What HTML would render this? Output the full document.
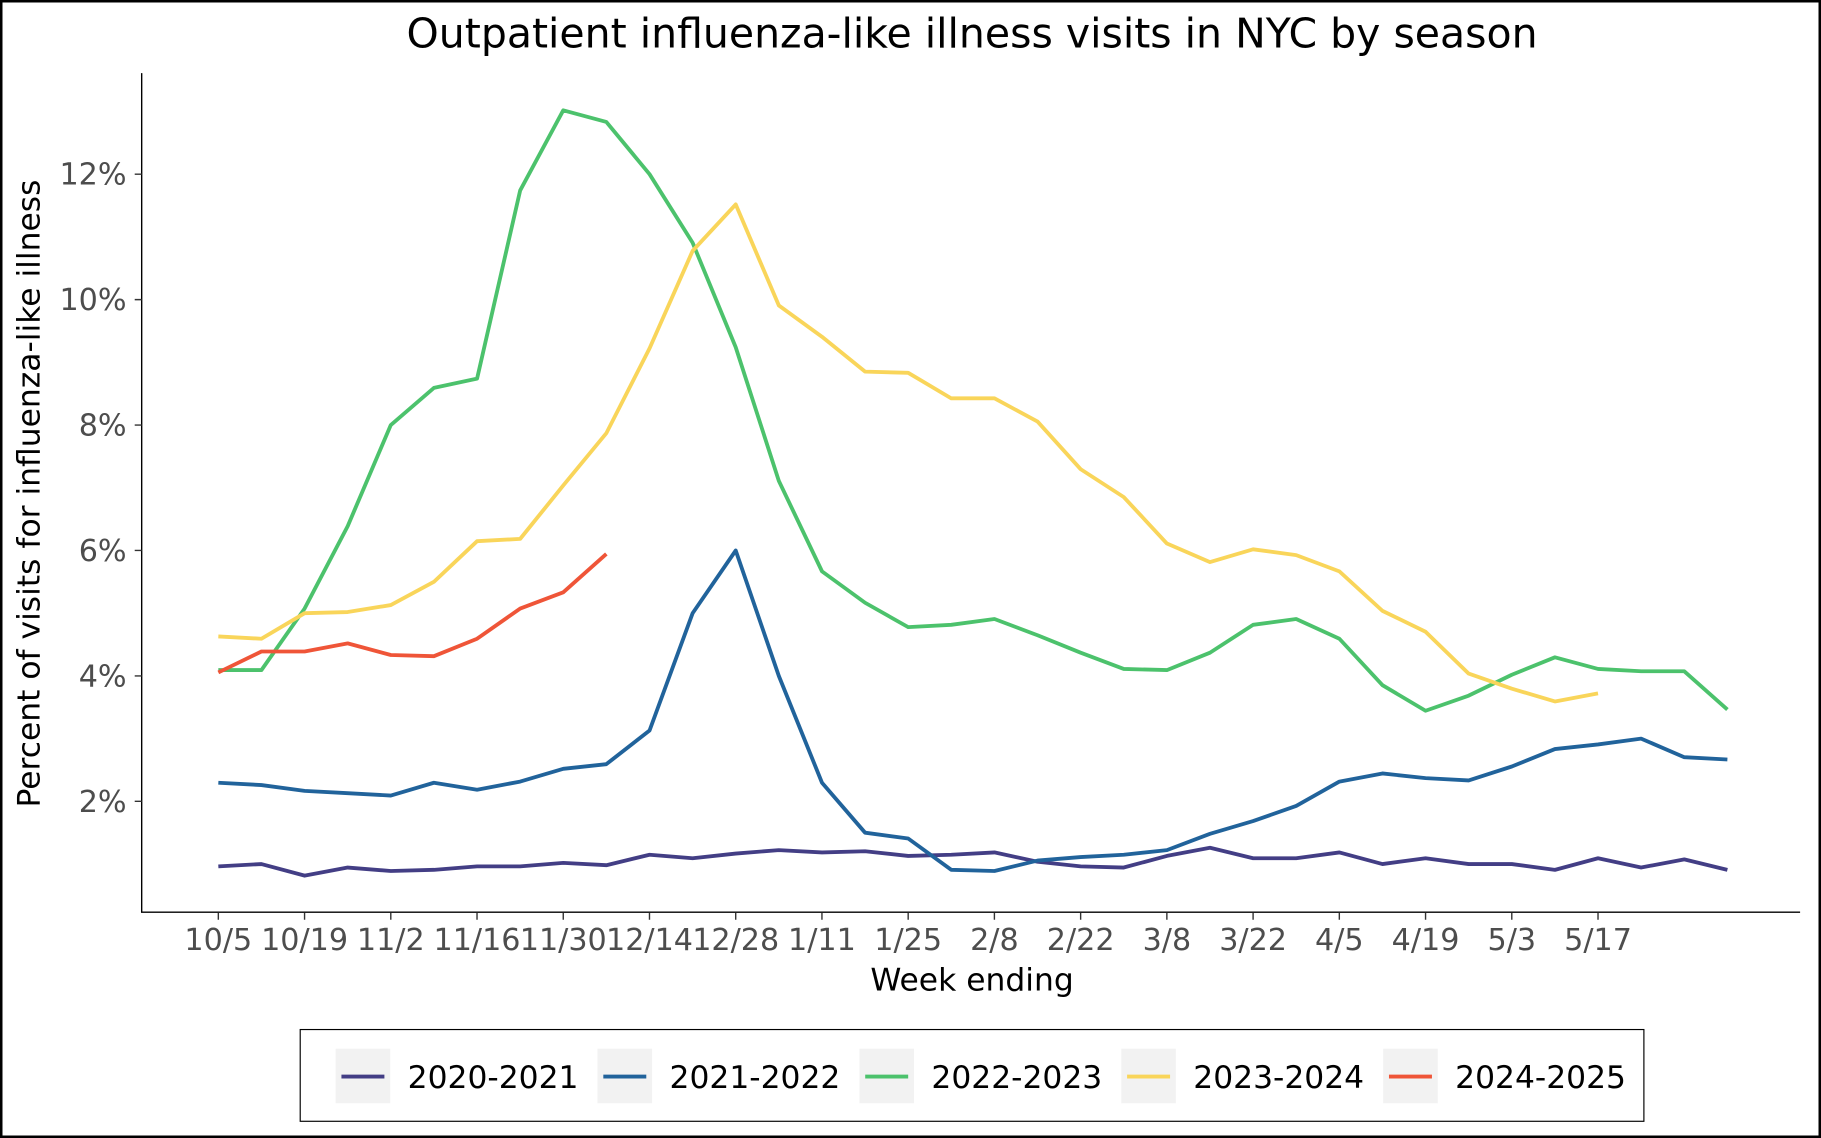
<!DOCTYPE html>
<html><head><meta charset="utf-8"><style>
html,body{margin:0;padding:0;background:#fff;}
svg{display:block;}
text{font-family:"DejaVu Sans","Liberation Sans",sans-serif;}
</style></head><body>
<svg width="1821" height="1138" viewBox="0 0 1821 1138" xmlns="http://www.w3.org/2000/svg">
<rect x="1" y="1" width="1819" height="1136" fill="#fff" stroke="#000" stroke-width="3"/>
<g transform="scale(1.16135)">
<text x="837" y="41" font-size="35.3" text-anchor="middle" fill="#000">Outpatient influenza-like illness visits in NYC by season</text>
<path d="M122 63 V785.5 H1550" fill="none" stroke="#000" stroke-width="1.2"/>
<path d="M116 150H122M116 258H122M116 366H122M116 474H122M116 582H122M116 690H122" stroke="#333" stroke-width="1.2"/>
<g font-size="26" fill="#4d4d4d" text-anchor="end">
<text x="109" y="159">12%</text><text x="109" y="267">10%</text><text x="109" y="375">8%</text>
<text x="109" y="483">6%</text><text x="109" y="591">4%</text><text x="109" y="699">2%</text>
</g>
<g font-size="26" fill="#4d4d4d" text-anchor="middle">
<path d="M188 786v6M262.25 786v6M336.5 786v6M410.75 786v6M485 786v6M559.25 786v6M633.5 786v6M707.75 786v6M782 786v6M856.25 786v6M930.5 786v6M1004.75 786v6M1079 786v6M1153.25 786v6M1227.5 786v6M1301.75 786v6M1376 786v6" stroke="#333" stroke-width="1.2"/>
<text x="188" y="818">10/5</text><text x="262.25" y="818">10/19</text><text x="336.5" y="818">11/2</text><text x="410.75" y="818">11/16</text><text x="485" y="818">11/30</text><text x="559.25" y="818">12/14</text><text x="633.5" y="818">12/28</text><text x="707.75" y="818">1/11</text><text x="782" y="818">1/25</text><text x="856.25" y="818">2/8</text><text x="930.5" y="818">2/22</text><text x="1004.75" y="818">3/8</text><text x="1079" y="818">3/22</text><text x="1153.25" y="818">4/5</text><text x="1227.5" y="818">4/19</text><text x="1301.75" y="818">5/3</text><text x="1376" y="818">5/17</text>
</g>
<text x="837" y="853" font-size="27" text-anchor="middle" fill="#000">Week ending</text>
<text transform="translate(34,425) rotate(-90)" font-size="27" text-anchor="middle" fill="#000">Percent of visits for influenza-like illness</text>
<g fill="none" stroke-width="3.3" stroke-linejoin="round">
<polyline stroke="#433e85" points="188,746 225.1,744 262.3,754 299.4,747 336.5,750 373.6,749 410.8,746 447.9,746 485,743 522.1,745 559.3,736 596.4,739 633.5,735 670.6,732 707.8,734 744.9,733 782,737 819.1,736 856.3,734 893.4,742 930.5,746 967.6,747 1004.8,737 1041.9,730 1079,739 1116.1,739 1153.3,734 1190.4,744 1227.5,739 1264.6,744 1301.8,744 1338.9,749 1376,739 1413.1,747 1450.3,740 1487.4,749"/>
<polyline stroke="#21639b" points="188,674 225.1,676 262.3,681 299.4,683 336.5,685 373.6,674 410.8,680 447.9,673 485,662 522.1,658 559.3,629 596.4,528 633.5,474 670.6,582 707.8,674 744.9,717 782,722 819.1,749 856.3,750 893.4,741 930.5,738 967.6,736 1004.8,732 1041.9,718 1079,707 1116.1,694 1153.3,673 1190.4,666 1227.5,670 1264.6,672 1301.8,660 1338.9,645 1376,641 1413.1,636 1450.3,652 1487.4,654"/>
<polyline stroke="#4cc26c" points="188,577 225.1,577 262.3,524 299.4,453 336.5,366 373.6,334 410.8,326 447.9,164 485,95 522.1,105 559.3,150 596.4,209 633.5,299 670.6,414 707.8,492 744.9,519 782,540 819.1,538 856.3,533 893.4,547 930.5,562 967.6,576 1004.8,577 1041.9,562 1079,538 1116.1,533 1153.3,550 1190.4,590 1227.5,612 1264.6,599 1301.8,581 1338.9,566 1376,576 1413.1,578 1450.3,578 1487.4,611"/>
<polyline stroke="#f9d55a" points="188,548 225.1,550 262.3,528 299.4,527 336.5,521 373.6,501 410.8,466 447.9,464 485,418 522.1,373 559.3,300 596.4,216 633.5,176 670.6,263 707.8,290 744.9,320 782,321 819.1,343 856.3,343 893.4,363 930.5,404 967.6,428 1004.8,468 1041.9,484 1079,473 1116.1,478 1153.3,492 1190.4,526 1227.5,544 1264.6,580 1301.8,593 1338.9,604 1376,597"/>
<polyline stroke="#ef5538" points="188,579 225.1,561 262.3,561 299.4,554 336.5,564 373.6,565 410.8,550 447.9,524 485,510 522.1,477"/>
</g>
<rect x="258.5" y="886.5" width="1157" height="79" fill="#fff" stroke="#000" stroke-width="1"/>
<g font-size="27" fill="#000">
<rect x="289" y="903" width="47" height="47" fill="#f2f2f2"/><line x1="294" y1="927" x2="331" y2="927" stroke="#433e85" stroke-width="3.3"/><text x="351" y="937">2020-2021</text>
<rect x="514.5" y="903" width="47" height="47" fill="#f2f2f2"/><line x1="519.5" y1="927" x2="556.5" y2="927" stroke="#21639b" stroke-width="3.3"/><text x="576.5" y="937">2021-2022</text>
<rect x="740" y="903" width="47" height="47" fill="#f2f2f2"/><line x1="745" y1="927" x2="782" y2="927" stroke="#4cc26c" stroke-width="3.3"/><text x="802" y="937">2022-2023</text>
<rect x="965.5" y="903" width="47" height="47" fill="#f2f2f2"/><line x1="970.5" y1="927" x2="1007.5" y2="927" stroke="#f9d55a" stroke-width="3.3"/><text x="1027.5" y="937">2023-2024</text>
<rect x="1191" y="903" width="47" height="47" fill="#f2f2f2"/><line x1="1196" y1="927" x2="1233" y2="927" stroke="#ef5538" stroke-width="3.3"/><text x="1253" y="937">2024-2025</text>
</g>
</g>
</svg>
</body></html>
